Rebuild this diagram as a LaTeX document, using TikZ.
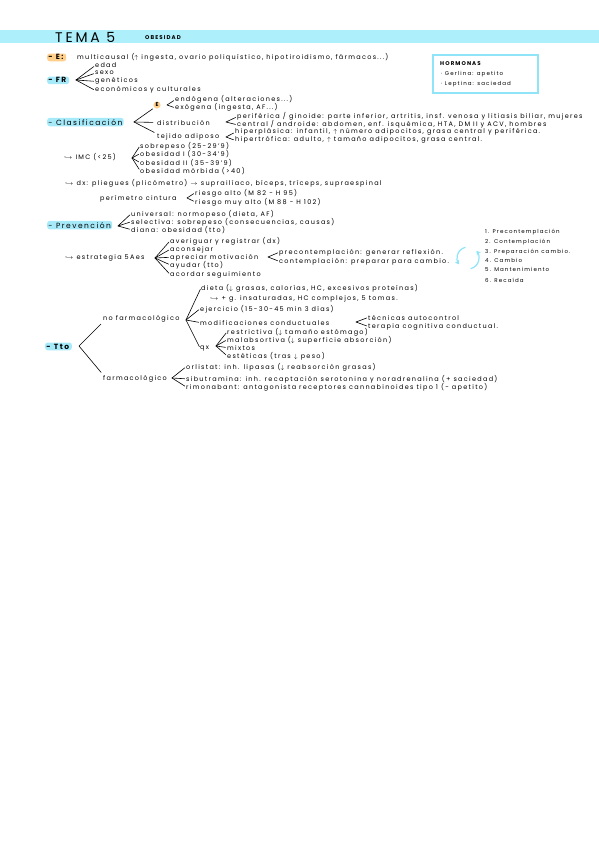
\documentclass[tikz,border=0pt]{standalone}
\usepackage{fontspec}
\setmainfont{Poppins}[LetterSpace=20]
\usetikzlibrary{arrows.meta}
\definecolor{bandcyan}{HTML}{ADF0FC}
\definecolor{hlblue}{HTML}{A6EAFA}
\definecolor{hlorange}{HTML}{FFCF8C}
\definecolor{boxcyan}{HTML}{8FE4F8}
\begin{document}
\begin{tikzpicture}[x=1pt,y=-1pt]
	\useasboundingbox (0,0) rectangle (599,848);
	\fill[white] (0,0) rectangle (599,848);
	\fill[bandcyan] (0,30) rectangle (599,43.5);
	\tikzstyle{txt}=[anchor=base west,inner sep=0pt,font=\fontsize{6.5}{7}\selectfont]
	\tikzstyle{sml}=[anchor=base west,inner sep=0pt,font=\fontsize{5.5}{6}\selectfont]
	\tikzstyle{head}=[anchor=base west,inner sep=1.2pt,rounded corners=2.5pt,font=\fontsize{7.5}{8}\selectfont]
	\tikzstyle{brace}=[line width=0.6pt,line cap=round,shorten >=1.5pt]
	\tikzstyle{cycarr}=[boxcyan,line width=1.2pt,line cap=round,-{Stealth[length=4pt,width=5pt]}]
	\path (55,43) node[anchor=base west,inner sep=0pt,font=\fontsize{14}{14}\selectfont] (tema) {TEMA 5};
	\path (145,40) node[anchor=base west,inner sep=0pt,font=\bfseries\fontsize{5.5}{6}\selectfont] (obes) {OBESIDAD};
	\draw[boxcyan,line width=1.5pt] (433,55) rectangle (538,93);
	\path (440,66) node[sml,font=\bfseries\fontsize{5.5}{6}\selectfont] (horm) {HORMONAS};
	\path (441,76) node[sml] (grel) {· Gerlina: apetito};
	\path (441,86) node[sml] (lept) {· Leptina: saciedad};
	\path (47,60) node[head,fill=hlorange] (etio) {\textbf{- E:}};
	\path (77,60) node[txt] (multi) {multicausal ($\uparrow$ ingesta, ovario poliquístico, hipotiroidismo, fármacos...)};
	\path (47,83) node[head,fill=hlblue] (fr) {\textbf{- FR}};
	\coordinate (afr) at (76,80);
	\path (95,68) node[txt] (fr1) {edad};
	\path (95,75) node[txt] (fr2) {sexo};
	\path (95,83) node[txt] (fr3) {genéticos};
	\path (95,92) node[txt] (fr4) {económicos y culturales};
	\foreach \n in {fr1,fr2,fr3,fr4} \draw[brace] (afr) -- (\n.west);
	\path (47,125) node[head,fill=hlblue] (clas) {- Clasificación};
	\coordinate (acl) at (134,122);
	\path (157,105) node[circle,fill=hlorange,inner sep=0.8pt,font=\bfseries\fontsize{5.5}{6}\selectfont] (ecir) {E};
	\path (157,125) node[txt] (distr) {distribución};
	\path (157,139) node[txt] (tejido) {tejido adiposo};
	\draw[brace,shorten >=2pt] (acl) -- (ecir.south west);
	\draw[brace,shorten >=4pt] (acl) -- (distr.west);
	\draw[brace,shorten >=3pt] (acl) -- (tejido.north west);
	\coordinate (ae) at (167,105);
	\path (175,102) node[txt] (endo) {endógena (alteraciones...)};
	\path (175,110) node[txt] (exo) {exógena (ingesta, AF...)};
	\foreach \n in {endo,exo} \draw[brace] (ae) -- (\n.west);
	\coordinate (adi) at (226,122);
	\path (237,119) node[txt] (peri) {periférica / ginoide: parte inferior, artritis, insf. venosa y litiasis biliar, mujeres};
	\path (237,127) node[txt] (cent) {central / androide: abdomen, enf. isquémica, HTA, DM II y ACV, hombres};
	\foreach \n in {peri,cent} \draw[brace] (adi) -- (\n.west);
	\coordinate (ate) at (226,137);
	\path (235,134) node[txt] (hpl) {hiperplásica: infantil, $\uparrow$ número adipocitos, grasa central y periférica.};
	\path (235,142) node[txt] (htr) {hipertrófica: adulto, $\uparrow$ tamaño adipocitos, grasa central.};
	\foreach \n in {hpl,htr} \draw[brace] (ate) -- (\n.west);
	\path (64,159) node[txt] (imc) {$\hookrightarrow$ IMC (<25)};
	\coordinate (aim) at (132,158);
	\path (140,148) node[txt] (im1) {sobrepeso (25-29'9)};
	\path (140,156) node[txt] (im2) {obesidad I (30-34'9)};
	\path (140,165) node[txt] (im3) {obesidad II (35-39'9)};
	\path (140,173) node[txt] (im4) {obesidad mórbida (>40)};
	\foreach \n in {im1,im2,im3,im4} \draw[brace] (aim) -- (\n.west);
	\path (65,185) node[txt] (dx) {$\hookrightarrow$ dx: pliegues (plicómetro) $\rightarrow$ suprailíaco, bíceps, tríceps, supraespinal};
	\path (100,200) node[txt] (peri2) {perímetro cintura};
	\coordinate (apc) at (187,198);
	\path (195,195) node[txt] (ra) {riesgo alto (M 82 - H 95)};
	\path (195,204) node[txt] (rma) {riesgo muy alto (M 88 - H 102)};
	\foreach \n in {ra,rma} \draw[brace] (apc) -- (\n.west);
	\path (47,228) node[head,fill=hlblue] (prev) {- Prevención};
	\coordinate (apr) at (118,226);
	\path (131,216) node[txt] (pv1) {universal: normopeso (dieta, AF)};
	\path (131,224) node[txt] (pv2) {selectiva: sobrepeso (consecuencias, causas)};
	\path (131,232) node[txt] (pv3) {diana: obesidad (tto)};
	\foreach \n in {pv1,pv2,pv3} \draw[brace] (apr) -- (\n.west);
	\path (65,259) node[txt] (estr) {$\hookrightarrow$ estrategia 5Aes};
	\coordinate (aes) at (155,258);
	\path (170,243) node[txt] (a1) {averiguar y registrar (dx)};
	\path (170,251) node[txt] (a2) {aconsejar};
	\path (170,259) node[txt] (a3) {apreciar motivación};
	\path (170,267) node[txt] (a4) {ayudar (tto)};
	\path (170,276) node[txt] (a5) {acordar seguimiento};
	\foreach \n in {a1,a2,a3,a4,a5} \draw[brace] (aes) -- (\n.west);
	\coordinate (amo) at (268,257);
	\path (279,254) node[txt] (prec) {precontemplación: generar reflexión.};
	\path (279,263) node[txt] (cont) {contemplación: preparar para cambio.};
	\foreach \n in {prec,cont} \draw[brace] (amo) -- (\n.west);
	\coordinate (cyc) at (468,258);
	\draw[cycarr] ([shift={(105:11pt)}]cyc) arc[start angle=105,end angle=215,radius=11pt];
	\draw[cycarr] ([shift={(285:11pt)}]cyc) arc[start angle=285,end angle=400,radius=11pt];
	\path (485,233) node[sml] (st1) {1. Precontemplación};
	\path (485,243) node[sml] (st2) {2. Contemplación};
	\path (485,253) node[sml] (st3) {3. Preparación cambio.};
	\path (485,262) node[sml] (st4) {4. Cambio};
	\path (485,271) node[sml] (st5) {5. Mantenimiento};
	\path (485,282) node[sml] (st6) {6. Recaída};
	\path (45,349) node[head,fill=hlblue] (tto) {\textbf{- Tto}};
	\coordinate (att) at (79,346);
	\path (103,320) node[txt] (nof) {no farmacológico};
	\path (103,380) node[txt] (far) {farmacológico};
	\draw[brace,shorten >=3pt] (att) -- (nof.south west);
	\draw[brace,shorten >=3pt] (att) -- (far.north west);
	\coordinate (anf) at (186,320);
	\path (201,290) node[txt] (diet) {dieta ($\downarrow$ grasas, calorías, HC, excesivos proteínas)};
	\path (210,300) node[txt] (insat) {$\hookrightarrow$ + g. insaturadas, HC complejos, 5 tomas.};
	\path (200,311) node[txt] (ejer) {ejercicio (15-30-45 min 3 días)};
	\path (200,325) node[txt] (modi) {modificaciones conductuales};
	\path (200,349) node[txt] (qx) {qx};
	\foreach \n in {diet,ejer,modi,qx} \draw[brace] (anf) -- (\n.west);
	\coordinate (amd) at (356,322);
	\path (368,320) node[txt] (tec) {técnicas autocontrol};
	\path (368,328) node[txt] (ter) {terapia cognitiva conductual.};
	\foreach \n in {tec,ter} \draw[brace] (amd) -- (\n.west);
	\coordinate (aqx) at (216,346);
	\path (227,334) node[txt] (q1) {restrictiva ($\downarrow$ tamaño estómago)};
	\path (227,342) node[txt] (q2) {malabsortiva ($\downarrow$ superficie absorción)};
	\path (227,350) node[txt] (q3) {mixtos};
	\path (227,358) node[txt] (q4) {estéticas (tras $\downarrow$ peso)};
	\foreach \n in {q1,q2,q3,q4} \draw[brace] (aqx) -- (\n.west);
	\coordinate (afa) at (172,378);
	\path (186,369) node[txt] (orl) {orlistat: inh. lipasas ($\downarrow$ reabsorción grasas)};
	\path (186,381) node[txt] (sib) {sibutramina: inh. recaptación serotonina y noradrenalina (+ saciedad)};
	\path (186,389) node[txt] (rim) {rimonabant: antagonista receptores cannabinoides tipo 1 (- apetito)};
	\foreach \n in {orl,sib,rim} \draw[brace] (afa) -- (\n.west);
\end{tikzpicture}
\end{document}
